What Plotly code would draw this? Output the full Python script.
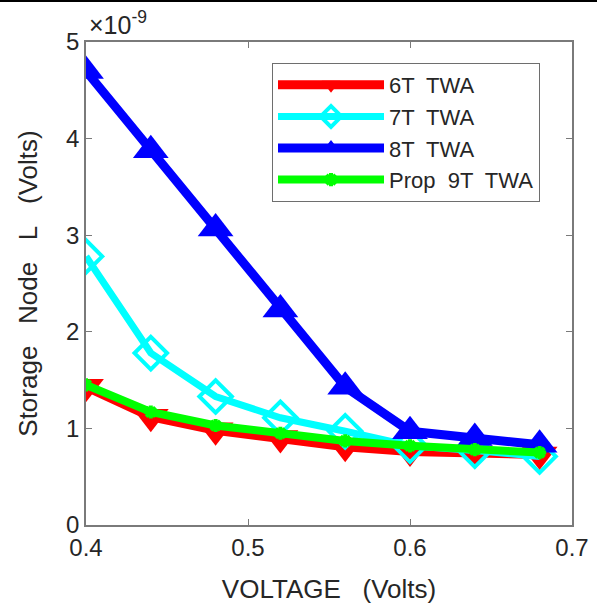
import plotly.graph_objects as go

# Data (storage node values in units of 1e-9 V)
voltage = [0.40, 0.44, 0.48, 0.52, 0.56, 0.60, 0.64, 0.68]
t6_twa = [1.43, 1.12, 0.98, 0.90, 0.81, 0.76, 0.74, 0.73]
t7_twa = [2.78, 1.78, 1.33, 1.11, 0.97, 0.82, 0.77, 0.71]
t8_twa = [4.70, 3.88, 3.07, 2.23, 1.43, 0.97, 0.90, 0.83]
prop9t_twa = [1.45, 1.17, 1.03, 0.95, 0.87, 0.82, 0.78, 0.75]
names = ["6T  TWA", "7T  TWA", "8T  TWA", "Prop  9T  TWA"]
x_ticks = [0.4, 0.5, 0.6, 0.7]
y_ticks = [0, 1, 2, 3, 4, 5]

FONT = "Arial, Liberation Sans, sans-serif"
TXT = "#262626"
AX = "#7a7a7a"

fig = go.Figure()
fig.add_trace(go.Scatter(
    x=voltage, y=t6_twa, name=names[0], mode="lines+markers",
    line=dict(color="#ff0000", width=9),
    marker=dict(symbol="triangle-down", size=31, color="#ff0000")))
fig.add_trace(go.Scatter(
    x=voltage, y=t7_twa, name=names[1], mode="lines+markers",
    line=dict(color="#00ffff", width=7),
    marker=dict(symbol="diamond-open", size=25, color="#00ffff",
                line=dict(width=4, color="#00ffff"))))
fig.add_trace(go.Scatter(
    x=voltage, y=t8_twa, name=names[2], mode="lines+markers",
    line=dict(color="#0000ff", width=9),
    marker=dict(symbol="triangle-up", size=31, color="#0000ff")))
fig.add_trace(go.Scatter(
    x=voltage, y=prop9t_twa, name=names[3], mode="lines+markers",
    line=dict(color="#00ff00", width=8),
    marker=dict(symbol="asterisk-open", size=11, color="#00ff00",
                line=dict(width=4, color="#00ff00"))))

ml, mr, mt, mb = 86, 25, 42, 80
W, H = 597, 605
ph = H - mt - mb

fig.update_layout(
    width=W, height=H,
    margin=dict(l=ml, r=mr, t=mt, b=mb, autoexpand=False),
    paper_bgcolor="white", plot_bgcolor="white",
    font=dict(family=FONT, color=TXT, size=24),
    showlegend=True,
    legend=dict(
        x=(272 - ml) / (W - ml - mr), y=(H - mb - 63) / ph,
        xanchor="left", yanchor="top",
        bgcolor="white", bordercolor="#6e6e6e", borderwidth=1,
        font=dict(family=FONT, size=22, color=TXT),
        itemwidth=106,
    ),
    xaxis=dict(
        range=[0.4, 0.7], tickvals=x_ticks,
        ticktext=[f"{v:.1f}" for v in x_ticks],
        ticks="inside", ticklen=6, tickcolor=AX,
        showline=True, linecolor=AX, linewidth=1.5, mirror="ticks",
        showgrid=False, zeroline=False, automargin=False,
        tickfont=dict(size=24, color=TXT),
        title=dict(text="VOLTAGE&nbsp;&nbsp;&nbsp;(Volts)", font=dict(size=26, color=TXT), standoff=20),
    ),
    yaxis=dict(
        range=[0, 5], tickvals=y_ticks,
        ticks="inside", ticklen=6, tickcolor=AX,
        showline=True, linecolor=AX, linewidth=1.5, mirror="ticks",
        showgrid=False, zeroline=False, automargin=False,
        tickfont=dict(size=24, color=TXT),
        title=dict(text="Storage&nbsp;&nbsp;&nbsp;Node&nbsp;&nbsp;&nbsp;L&nbsp;&nbsp;&nbsp;(Volts)",
                   font=dict(size=26, color=TXT), standoff=21),
    ),
)

fig.add_annotation(
    text="×10<sup>-9</sup>", xref="paper", yref="paper",
    x=0, y=1, xanchor="left", yanchor="bottom", yshift=1, xshift=1,
    showarrow=False, font=dict(family=FONT, size=25, color=TXT))

# thin black rule at the very top of the image
fig.add_shape(type="line", xref="paper", yref="paper",
              x0=-ml / (W - ml - mr), x1=1 + mr / (W - ml - mr),
              y0=1 + (mt - 1) / ph, y1=1 + (mt - 1) / ph,
              line=dict(color="black", width=2))

fig.write_html("out.html",
               config={"displayModeBar": False},
               post_script="document.body.style.margin='0';document.body.style.overflow='hidden';")
